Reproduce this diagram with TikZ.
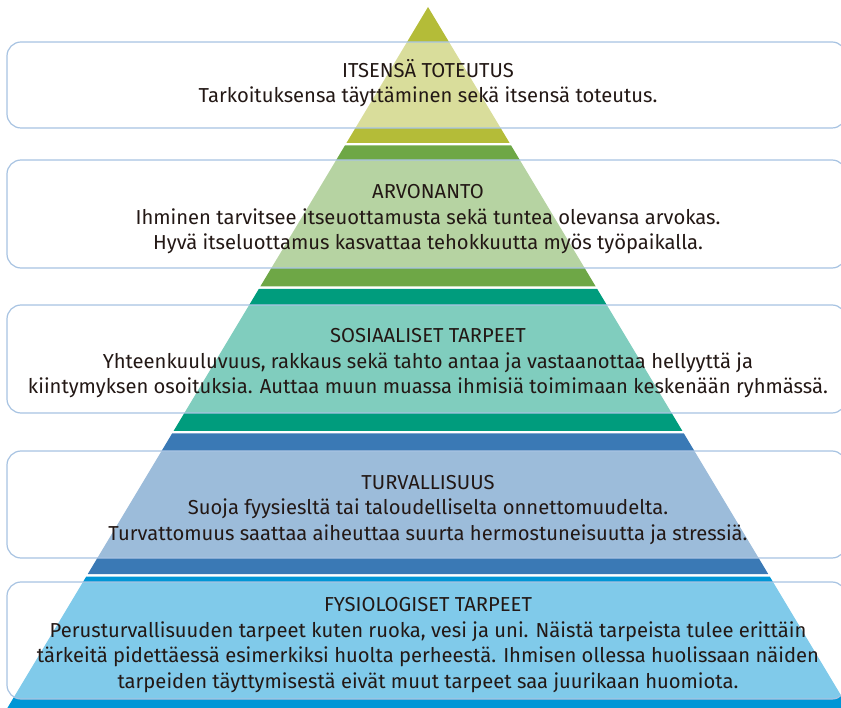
\documentclass[tikz,border=0pt]{standalone}
\usepackage{fontspec}
\setmainfont{Fira Sans}

\definecolor{olivi}{HTML}{B4BC38}
\definecolor{vihrea}{HTML}{6EA746}
\definecolor{turkoosi}{HTML}{009C7D}
\definecolor{sininen}{HTML}{3A79B5}
\definecolor{taivas}{HTML}{0096D6}
\definecolor{reuna}{HTML}{A7C3E2}
\definecolor{tekstiv}{HTML}{231815}

\tikzset{
  laatikko/.style={draw=reuna,line width=1.2pt,rounded corners=14pt,fill=white,
    fill opacity=0.5,draw opacity=1,text opacity=1,inner sep=0pt,
    minimum width=839pt},
  teksti/.style={align=center,text=tekstiv,anchor=base,inner sep=0pt,
    font=\fontsize{20.2}{25.5}\selectfont}
}

\begin{document}
\begin{tikzpicture}[x=1pt,y=-1pt]
\useasboundingbox (0,0) rectangle (841,708);
\clip (0,0) rectangle (841,708);

% pyramidin kerrokset, huippu (428,7)
\foreach \ya/\yb/\vari in {7/143/olivi,145.5/286.5/vihrea,289/431/turkoosi,433.5/574/sininen,576.5/720/taivas}
  \fill[\vari] ({428-0.6*(\ya-7)},\ya) -- ({428+0.6*(\ya-7)},\ya)
    -- ({428+0.6*(\yb-7)},\yb) -- ({428-0.6*(\yb-7)},\yb) -- cycle;

% laatikot kerrosten paalle
\foreach \nimi/\ya/\yb in {itsensa/42/128,arvonanto/160/268,sosiaaliset/305/413,turvallisuus/451/558,fysiologiset/582/699}
  \node (\nimi) [laatikko,minimum height={(\yb-\ya)*1pt}] at (426.5,{(\ya+\yb)/2}) {};

\node (itsensa-t) [teksti] at (428,103) {ITSENSÄ TOTEUTUS\\
Tarkoituksensa täyttäminen sekä itsensä toteutus.};
\node (arvonanto-t) [teksti] at (428,250) {ARVONANTO\\
Ihminen tarvitsee itseuottamusta sekä tuntea olevansa arvokas.\\
Hyvä itseluottamus kasvattaa tehokkuutta myös työpaikalla.};
\node (sosiaaliset-t) [teksti] at (428,394) {SOSIAALISET TARPEET\\
Yhteenkuuluvuus, rakkaus sekä tahto antaa ja vastaanottaa hellyyttä ja\\
kiintymyksen osoituksia. Auttaa muun muassa ihmisiä toimimaan keskenään ryhmässä.};
\node (turvallisuus-t) [teksti] at (428,540) {TURVALLISUUS\\
Suoja fyysiesltä tai taloudelliselta onnettomuudelta.\\
Turvattomuus saattaa aiheuttaa suurta hermostuneisuutta ja stressiä.};
\node (fysiologiset-t) [teksti] at (428,688) {FYSIOLOGISET TARPEET\\
Perusturvallisuuden tarpeet kuten ruoka, vesi ja uni. Näistä tarpeista tulee erittäin\\
tärkeitä pidettäessä esimerkiksi huolta perheestä. Ihmisen ollessa huolissaan näiden\\
tarpeiden täyttymisestä eivät muut tarpeet saa juurikaan huomiota.};
\end{tikzpicture}
\end{document}
